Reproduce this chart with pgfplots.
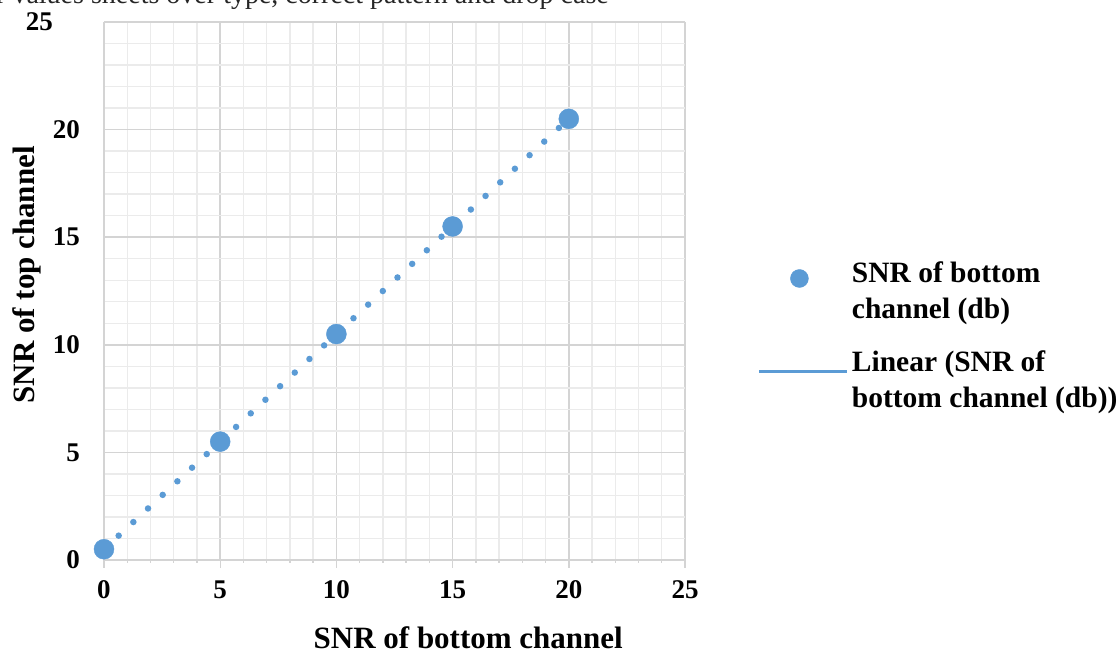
\documentclass[border=0pt]{standalone}
\usepackage{pgfplots}
\pgfplotsset{compat=1.18}
\usepackage{fontspec}
\setmainfont{Liberation Serif}
\definecolor{ptblue}{HTML}{5B9BD5}
\definecolor{majgrid}{HTML}{D4D4D4}
\definecolor{mingrid}{HTML}{EBEBEB}
\begin{document}
\begin{tikzpicture}
\useasboundingbox (0,0) rectangle (1120pt,655pt);
\node[anchor=base west, inner sep=0pt, font=\fontsize{28}{32}\selectfont, text=black!85] at (-4pt,651.5pt) {r values sheets over type, correct pattern and drop case};
\begin{axis}[
  at={(104pt,95pt)}, anchor=south west,
  width=581pt, height=538pt, scale only axis,
  xmin=0, xmax=25, ymin=0, ymax=25,
  xtick={0,5,10,15,20,25}, ytick={0,5,10,15,20,25},
  yticklabels={0,5,10,15,20,{25\hspace*{27pt}}},
  minor x tick num=4, minor y tick num=4,
  grid=both,
  major grid style={majgrid, line width=1.6pt},
  minor grid style={mingrid, line width=1.4pt},
  axis line style={majgrid, line width=1.6pt},
  axis x line*=bottom, axis y line*=left,
  x axis line style={-}, y axis line style={-},
  xtick style={draw=majgrid, line width=1.4pt},
  ytick style={draw=none},
  minor tick style={draw=none},
  major tick length=8pt,
  xtick pos=bottom, ytick pos=left,
  tick align=outside,
  /pgf/number format/assume math mode=true,
  ticklabel style={font=\fontsize{27}{30}\selectfont\bfseries, inner sep=0pt},
  xticklabel style={anchor=base, yshift=-31pt},
  yticklabel style={anchor=east, xshift=-16pt},
  xlabel={SNR of bottom channel},
  ylabel={SNR of top channel},
  label style={font=\fontsize{31}{34}\selectfont\bfseries},
  xlabel style={at={(rel axis cs:0.627,-0.164)}, anchor=base, inner sep=0pt},
  ylabel style={at={(rel axis cs:-0.132,0.53)}, anchor=center, inner sep=0pt},
  clip=false,
  legend style={at={(1.12,0.418)}, anchor=west, draw=none, fill=none,
    font=\fontsize{29.5}{36}\selectfont\bfseries,
    nodes={align=left, inner sep=0pt},
    row sep=31pt, column sep=3pt},
  legend cell align=left,
]
\addplot[only marks, mark=*, mark size=10pt, mark options={draw=ptblue, fill=ptblue},
  legend image code/.code={\fill[ptblue] (40pt,12pt) circle (9pt); \path[draw=none] (0,0) -- (88pt,0);}]
  coordinates {(0,0.5) (5,5.5) (10,10.5) (15,15.5) (20,20.5)};
\addlegendentry{SNR of bottom\\channel (db)}
\addplot[ptblue, line width=6.5pt, line cap=round, dash pattern=on 0pt off 20pt,
  legend image code/.code={\draw[ptblue, solid, line width=3pt, line cap=butt] (0,8pt) -- (88pt,8pt);}]
  coordinates {(0,0.5) (20,20.5)};
\addlegendentry{Linear (SNR of\\bottom channel (db))}
\end{axis}
\end{tikzpicture}
\end{document}
